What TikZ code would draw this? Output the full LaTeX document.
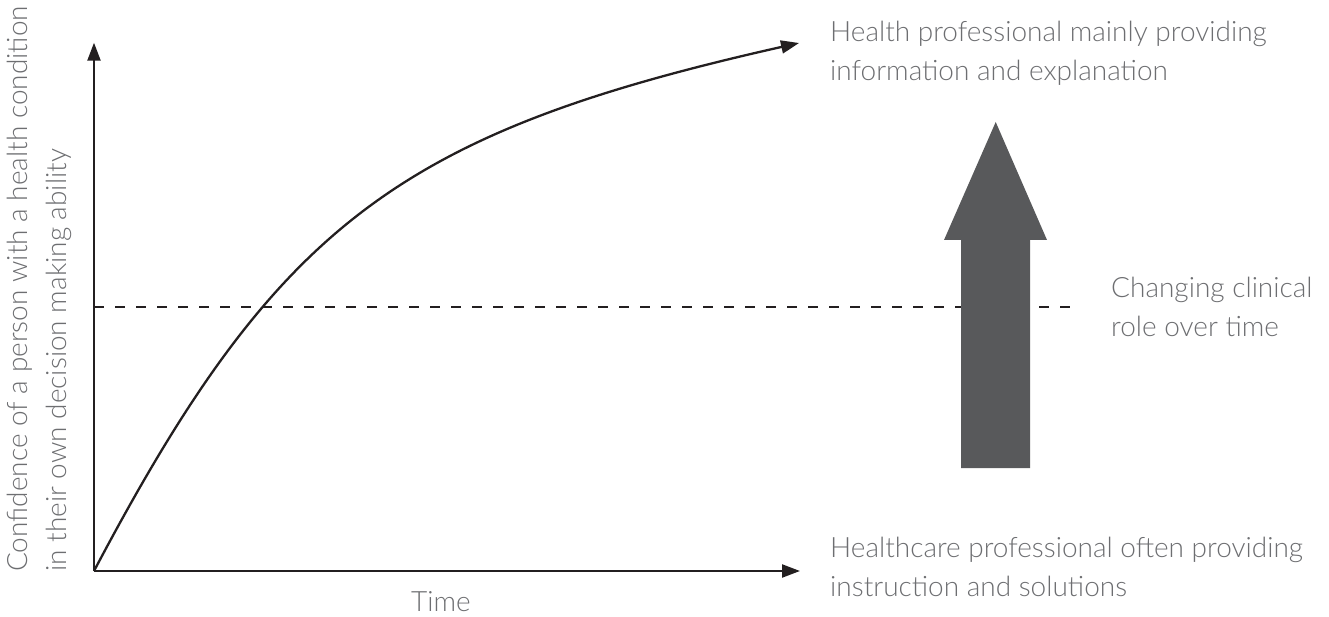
\documentclass[tikz,border=0pt]{standalone}
\usepackage{fontspec}
\IfFontExistsTF{Lato Light}{\setmainfont{Lato Light}}{\setmainfont{Lato}}
\usetikzlibrary{arrows.meta}
\definecolor{inkline}{HTML}{231F20}
\definecolor{labelgray}{HTML}{6D6E71}
\definecolor{bigarrow}{HTML}{58595B}
\begin{document}
\begin{tikzpicture}[x=1pt,y=-1pt,
  axisline/.style={draw=inkline,line width=2.3pt,-{Triangle[length=18pt,width=13pt]}},
  refline/.style={draw=inkline,line width=2.3pt,dash pattern=on 10pt off 11pt},
  lbl/.style={text=labelgray,font=\fontsize{28}{38.5}\selectfont,inner sep=0pt,align=left}]
\useasboundingbox (0,0) rectangle (1329,617);

% axes
\coordinate (O) at (94,571);
\coordinate (ytop) at (94,42.7);
\coordinate (xend) at (800,571);
\coordinate (curveend) at (799,43);
\coordinate (dashend) at (1081,306.7);
\coordinate (dashstart) at (94,306.7);

% reference level, passes behind the big arrow
\draw[refline] (dashstart) -- (dashend);

\draw[axisline] (O) -- (ytop);
\draw[axisline] (O) -- (xend);

% confidence curve
\draw[axisline] (O) .. controls (277,224) and (399,133) .. (curveend);

% changing role arrow
\fill[bigarrow] (961,468) -- (961,240) -- (944,240) -- (995.7,122)
  -- (1047,240) -- (1030,240) -- (1030,468) -- cycle;

% labels
\node[lbl,anchor=north west] (top) at (830,21)
  {Health professional mainly providing\\information and explanation};
\node[lbl,anchor=north west] (role) at (1111,277)
  {Changing clinical\\role over time};
\node[lbl,anchor=north west] (bottom) at (830,537)
  {Healthcare professional often providing\\instruction and solutions};
\node[lbl,anchor=base] (time) at (441,611) {Time};
\node[lbl,anchor=north west,rotate=90] (ylab) at (7,572)
  {Confidence of a person with a health condition\\in their own decision making ability};
\end{tikzpicture}
\end{document}
